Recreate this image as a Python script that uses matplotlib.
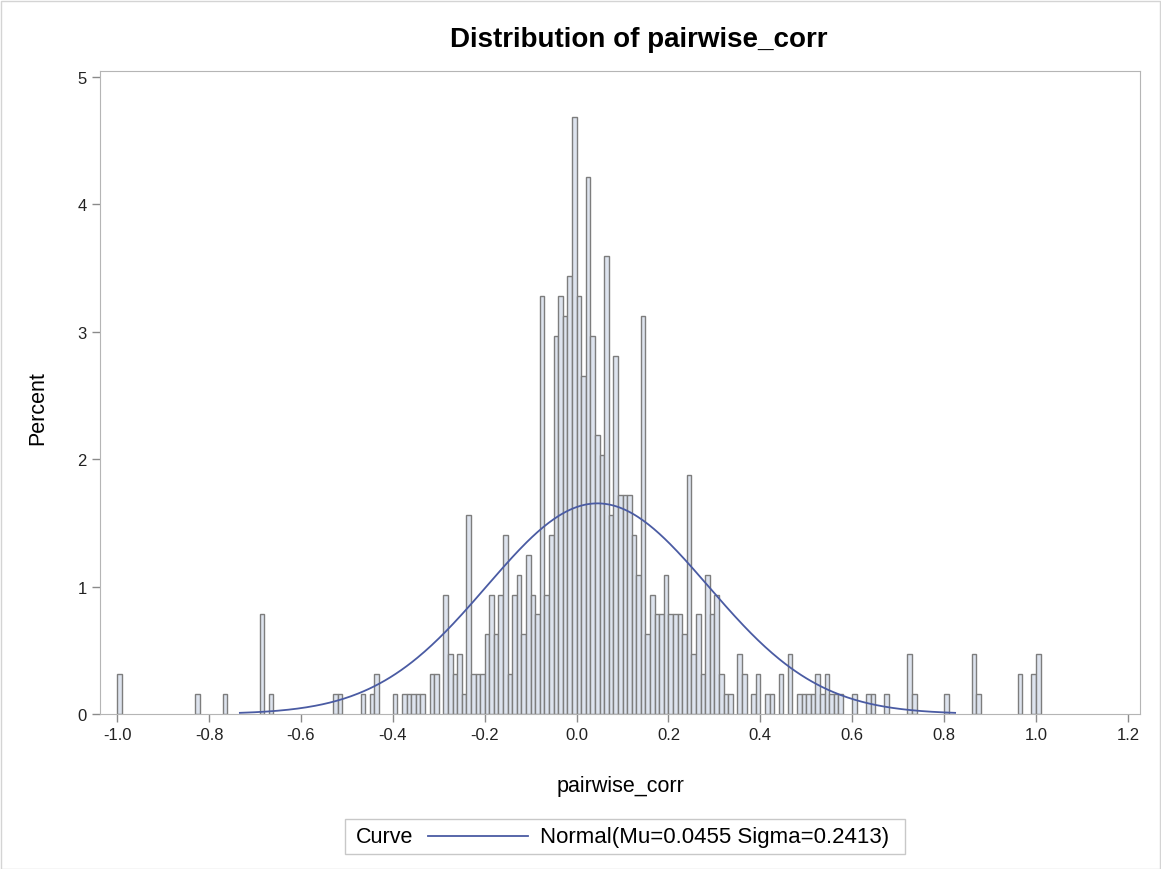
import numpy as np
import matplotlib
matplotlib.use("Agg")
import matplotlib.pyplot as plt
from matplotlib.lines import Line2D
from matplotlib.patches import Rectangle

plt.rcParams['font.family'] = ['Liberation Sans', 'DejaVu Sans']

# histogram bins: bin k covers [k*0.01, (k+1)*0.01), counts
bin_k = [-100, -83, -77, -69, -67, -53, -52, -47, -45, -44, -40,
         -38, -37, -36, -35, -34, -32, -31, -29, -28, -27, -26, -25, -24,
         -23, -22, -21, -20, -19, -18, -17, -16, -15, -14, -13, -12, -11,
         -10, -9, -8, -7, -6, -5, -4, -3, -2, -1, 0, 1, 2, 3, 4, 5, 6, 7,
         8, 9, 10, 11, 12, 13, 14, 15, 16, 17, 18, 19, 20, 21, 22, 23, 24,
         25, 26, 27, 28, 29, 30, 31, 32, 33, 35, 36, 38, 39, 41, 42, 44,
         46, 48, 49, 50, 51, 52, 53, 54, 55, 56, 57, 60, 63, 64, 67, 72,
         73, 80, 86, 87, 96, 99, 100]
counts = [2, 1, 1, 5, 1, 1, 1, 1, 1, 2, 1,
          1, 1, 1, 1, 1, 2, 2, 6, 3, 2, 3, 1, 10,
          2, 2, 2, 4, 6, 4, 6, 9, 2, 6, 7, 4, 8,
          6, 5, 21, 6, 9, 19, 21, 20, 22, 30, 21, 17, 27, 19, 14, 13, 23, 10,
          18, 11, 11, 11, 9, 7, 20, 4, 6, 5, 5, 7, 5, 5, 5, 4, 12,
          3, 5, 2, 7, 5, 6, 2, 1, 1, 3, 2, 1, 2, 1, 1, 2,
          3, 1, 1, 1, 1, 2, 1, 2, 1, 1, 1, 1, 1, 1, 1, 3,
          1, 1, 3, 1, 2, 2, 3]
bin_width = 0.01

x_ticks = [-1.0, -0.8, -0.6, -0.4, -0.2, 0.0, 0.2, 0.4, 0.6, 0.8, 1.0, 1.2]
x_labels = ['-1.0', '-0.8', '-0.6', '-0.4', '-0.2', '0.0', '0.2', '0.4',
            '0.6', '0.8', '1.0', '1.2']

mu = 0.0455
sigma = 0.2413
curve_range = (-0.733, 0.824)

left_edges = np.array(bin_k) * bin_width
percent = 100.0 * np.array(counts) / np.sum(counts)

fig = plt.figure(figsize=(11.61, 8.7), dpi=100)
ax = fig.add_axes([100/1161, 1 - 715/870, 1040/1161, 643/870])

ax.bar(left_edges, percent, width=bin_width, align='edge',
       color='#dde3ee', edgecolor='#7d7d7d', linewidth=1.0, zorder=2)

xs = np.linspace(curve_range[0], curve_range[1], 400)
pdf = np.exp(-0.5 * ((xs - mu) / sigma) ** 2) / (sigma * np.sqrt(2 * np.pi))
ax.plot(xs, 100 * bin_width * pdf, color='#4a5ba3', linewidth=1.3, zorder=3)

ax.set_xlim(-1.0375, 1.2265)
ax.set_ylim(0, 5.047)
ax.set_xticks(x_ticks)
ax.set_xticklabels(x_labels)
ax.set_yticks(range(6))
for s in ax.spines.values():
    s.set_color('#b5b5b5')
ax.tick_params(axis='both', colors='#8a8a8a', labelcolor='#222222',
               labelsize=12, length=6, width=1)

fig.text(639/1161, 1 - 40/870, 'Distribution of pairwise_corr', fontsize=20,
         fontweight='bold', ha='center', va='center')
fig.text(620/1161, 1 - 787/870, 'pairwise_corr', fontsize=15.5,
         ha='center', va='center')
fig.text(38/1161, 1 - 408/870, 'Percent', fontsize=15.5, rotation=90,
         ha='center', va='center')

# legend box: "Curve" then the line sample then the label
fig.patches.append(Rectangle((345/1161, 1 - 855/870), 560/1161, 35/870,
                             transform=fig.transFigure, facecolor='white',
                             edgecolor='#c8c8c8', linewidth=1))
fig.text(356/1161, 1 - 838/870, 'Curve', fontsize=15.5, va='center', ha='left')
fig.lines.append(Line2D([428/1161, 528/1161], [1 - 837/870, 1 - 837/870],
                        transform=fig.transFigure, color='#4a5ba3', linewidth=1.3))
fig.text(540/1161, 1 - 838/870, f'Normal(Mu={mu} Sigma={sigma})',
         fontsize=16, va='center', ha='left')

# thin grey frame round the whole picture
fig.patches.append(Rectangle((0.5/1161, 0.5/870), 1159/1161, 868/870,
                             transform=fig.transFigure, fill=False,
                             edgecolor='#d4d4d4', linewidth=1))

fig.savefig('out.png', dpi=100)
